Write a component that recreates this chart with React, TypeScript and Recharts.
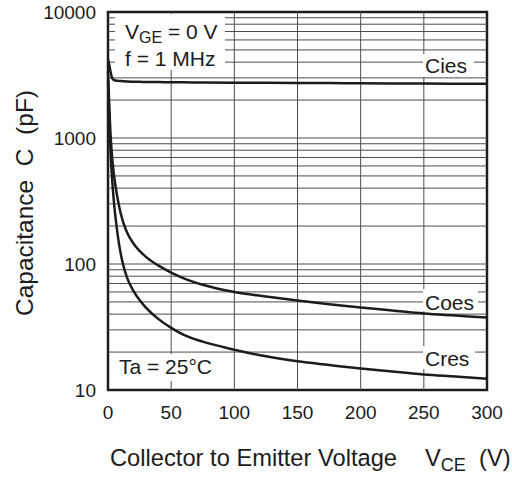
import { LineChart, Line, XAxis, YAxis, ReferenceLine, ReferenceArea } from 'recharts'

// collector-emitter voltage (V)
const vce = [0, 1, 2, 3, 4, 5, 6, 8, 10, 12, 15, 20, 25, 30, 40, 50, 60, 75, 100, 125, 150, 175, 200, 225, 250, 275, 300]

// capacitances in pF
const cies = [4200, 3800, 3350, 3050, 2920, 2880, 2860, 2840, 2830, 2820, 2805, 2795, 2790, 2785, 2778, 2770, 2765, 2758, 2750, 2742, 2735, 2728, 2720, 2712, 2705, 2698, 2690]
const coes = [3400, 1780, 1070, 760, 590, 485, 412, 315, 254, 215, 179, 146, 127, 114, 97, 85.5, 77, 68.5, 60, 55.3, 51.3, 48, 45.2, 42.8, 40.5, 39, 37.6]
const cres = [2800, 1490, 800, 516, 374, 287, 231, 161, 122, 98.5, 78.4, 61.5, 51.7, 45.1, 36.5, 31.1, 27.4, 24.2, 20.9, 18.5, 16.9, 15.8, 14.8, 14, 13.3, 12.8, 12.3]

const xTicks = [0, 50, 100, 150, 200, 250, 300]
const yTicks = [10, 100, 1000, 10000]
const gridX = [50, 100, 150, 200, 250]
const gridY = [20, 30, 40, 50, 60, 70, 80, 90, 100, 200, 300, 400, 500, 600, 700, 800, 900, 1000, 2000, 3000, 4000, 5000, 6000, 7000, 8000, 9000]

const data = vce.map((v, i) => ({ v, cies: cies[i], coes: coes[i], cres: cres[i] }))

const font = '"Liberation Sans", Arial, Helvetica, sans-serif'
const ink = '#1c1c1c'
const gridColor = '#4d4d4d'

function Box({ left, top, width, height }: { left: number; top: number; width: number; height: number }) {
  return <div style={{ position: 'absolute', left, top, width, height, background: '#fff' }} />
}

function Note({ left, top, size = 21, children }: { left: number; top: number; size?: number; children: React.ReactNode }) {
  return (
    <div style={{ position: 'absolute', left, top, fontSize: size, lineHeight: 1, whiteSpace: 'pre', color: ink, fontFamily: font }}>
      {children}
    </div>
  )
}

export default function App() {
  return (
    <div style={{ position: 'absolute', left: 0, top: 0, width: 512, height: 477, background: '#fff', fontFamily: font }}>
      <LineChart width={512} height={477} data={data} margin={{ top: 12, right: 25, bottom: 57, left: 48 }}>
        <XAxis
          dataKey="v"
          type="number"
          domain={[0, 300]}
          ticks={xTicks}
          axisLine={false}
          tickLine={false}
          tickSize={0}
          tickMargin={16}
          height={30}
          tick={{ fill: ink, fontSize: 19, fontFamily: font }}
        />
        <YAxis
          scale="log"
          domain={[10, 10000]}
          ticks={yTicks}
          allowDataOverflow
          axisLine={false}
          tickLine={false}
          tickSize={0}
          tickMargin={12}
          width={60}
          tick={{ fill: ink, fontSize: 19, fontFamily: font }}
        />
        {gridY.map((y) => (
          <ReferenceLine key={'h' + y} y={y} stroke={gridColor} strokeWidth={1} />
        ))}
        {gridX.map((x) => (
          <ReferenceLine key={'v' + x} x={x} stroke={gridColor} strokeWidth={1} />
        ))}
        <Line type="monotone" dataKey="cies" stroke={ink} strokeWidth={2.5} dot={false} isAnimationActive={false} />
        <Line type="monotone" dataKey="coes" stroke={ink} strokeWidth={2.5} dot={false} isAnimationActive={false} />
        <Line type="monotone" dataKey="cres" stroke={ink} strokeWidth={2.5} dot={false} isAnimationActive={false} />
        <ReferenceArea x1={0} x2={300} y1={10} y2={10000} fill="none" stroke={ink} strokeWidth={2.5} ifOverflow="visible" />
      </LineChart>

      <Box left={115} top={14} width={110} height={56} />
      <Note left={125} top={21}>
        V<sub style={{ fontSize: 16, verticalAlign: -4 }}>GE</sub> = 0 V
      </Note>
      <Note left={125} top={48}>f = 1 MHz</Note>

      <Box left={423} top={54} width={51} height={23} />
      <Note left={425} top={55}>Cies</Note>
      <Box left={423} top={289} width={55} height={22} />
      <Note left={425} top={292}>Coes</Note>
      <Box left={423} top={346} width={52} height={23} />
      <Note left={425} top={348}>Cres</Note>

      <Box left={112} top={354} width={113} height={27} />
      <Note left={119} top={356}>Ta = 25°C</Note>

      <Note left={110} top={447} size={23.7}>Collector to Emitter Voltage</Note>
      <Note left={425} top={447} size={23.7}>
        V<sub style={{ fontSize: 18, verticalAlign: -5 }}>CE</sub>{'  (V)'}
      </Note>

      <div
        style={{
          position: 'absolute',
          left: 25 - 150,
          top: 203 - 14,
          width: 300,
          height: 28,
          lineHeight: '28px',
          textAlign: 'center',
          transform: 'rotate(-90deg)',
          fontSize: 24.5,
          whiteSpace: 'pre',
          color: ink,
          fontFamily: font,
        }}
      >
        Capacitance  C  (pF)
      </div>
    </div>
  )
}
